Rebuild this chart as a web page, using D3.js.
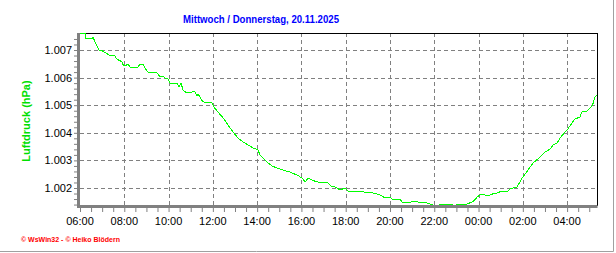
<!DOCTYPE html>
<html>

<head>
    <title>Luftdruck</title>
    <script src="https://d3js.org/d3.v7.min.js"></script>
    <style>
        body { margin: 0; background: #fff; }
        svg { display: block; font-family: "Liberation Sans", Arial, sans-serif; }
    </style>
</head>

<body>
    <div id="chart"></div>
    <script>
        // data (hour:minute, pressure)
        var times = ["06:00", "06:14", "06:16", "06:33", "06:35", "06:51", "07:02", "07:19", "07:35", "07:40",
            "07:54", "07:57", "08:02", "08:10", "08:16", "08:37", "08:43", "08:51", "08:56", "09:04",
            "09:29", "09:37", "09:45", "09:50", "09:58", "10:04", "10:23", "10:28", "10:34", "10:39",
            "10:50", "11:04", "11:12", "11:17", "11:20", "11:33", "11:58", "12:03", "12:14", "12:28",
            "12:41", "12:55", "13:08", "13:22", "13:35", "13:49", "14:02", "14:08", "14:27", "14:40",
            "14:54", "15:10", "15:29", "15:48", "16:02", "16:10", "16:18", "16:29", "16:42", "17:12",
            "17:23", "17:26", "17:45", "17:58", "18:06", "18:31", "18:39", "18:47", "19:14", "19:33",
            "19:47", "20:00", "20:06", "20:27", "20:35", "20:46", "20:54", "21:02", "21:30", "21:40",
            "22:02", "22:24", "22:43", "22:56", "23:04", "23:29", "23:42", "23:50", "23:56", "00:04",
            "00:12", "00:23", "00:37", "00:50", "00:58", "01:17", "01:25", "01:44", "01:52", "02:00",
            "02:14", "02:28", "02:47", "03:00", "03:14", "03:22", "03:33", "03:41", "03:54", "04:02",
            "04:21", "04:35", "04:40", "04:54", "05:08", "05:16", "05:21"];
        var pressure = [1.00758, 1.00758, 1.00740, 1.00740, 1.00747, 1.00700, 1.00696, 1.00682, 1.00678, 1.00667,
            1.00657, 1.00646, 1.00642, 1.00649, 1.00638, 1.00638, 1.00649, 1.00649, 1.00635, 1.00620,
            1.00617, 1.00602, 1.00606, 1.00599, 1.00595, 1.00580, 1.00580, 1.00566, 1.00580, 1.00555,
            1.00544, 1.00548, 1.00548, 1.00533, 1.00541, 1.00512, 1.00508, 1.00493, 1.00475, 1.00454,
            1.00428, 1.00403, 1.00381, 1.00367, 1.00356, 1.00345, 1.00338, 1.00320, 1.00294, 1.00280,
            1.00272, 1.00265, 1.00258, 1.00247, 1.00236, 1.00222, 1.00236, 1.00229, 1.00222, 1.00218,
            1.00204, 1.00207, 1.00193, 1.00200, 1.00189, 1.00186, 1.00189, 1.00186, 1.00182, 1.00175,
            1.00164, 1.00167, 1.00160, 1.00160, 1.00146, 1.00149, 1.00146, 1.00153, 1.00146, 1.00146,
            1.00135, 1.00142, 1.00142, 1.00135, 1.00142, 1.00142, 1.00149, 1.00157, 1.00167, 1.00175,
            1.00178, 1.00171, 1.00178, 1.00182, 1.00186, 1.00186, 1.00196, 1.00204, 1.00222, 1.00240,
            1.00265, 1.00291, 1.00312, 1.00330, 1.00341, 1.00356, 1.00363, 1.00381, 1.00403, 1.00414,
            1.00450, 1.00457, 1.00475, 1.00479, 1.00497, 1.00530, 1.00537];
        var yTicks = [1.002, 1.003, 1.004, 1.005, 1.006, 1.007];
        var xTickLabels = ["06:00", "08:00", "10:00", "12:00", "14:00", "16:00", "18:00", "20:00", "22:00", "00:00", "02:00", "04:00"];
        var title = "Mittwoch / Donnerstag, 20.11.2025";
        var yLabel = "Luftdruck (hPa)";
        var footer = "\u00a9 WsWin32  -  \u00a9 Heiko Blödern";

        // times before 06:00 belong to the next day
        function toDate(s) {
            var p = s.split(":").map(Number);
            var day = p[0] < 6 ? 20 : 19;
            return new Date(2025, 10, day, p[0], p[1]);
        }
        var data = times.map(function (t, i) { return { t: toDate(t), v: pressure[i] }; });

        const W = 616, H = 253;
        const margin = { top: 33, right: 19, bottom: 47, left: 80 };
        const width = W - margin.left - margin.right, height = H - margin.top - margin.bottom;

        var svg = d3.select("#chart").append("svg")
            .attr("width", W).attr("height", H);

        // outer frame (grey edge on right and bottom)
        svg.append("line").attr("x1", 613.5).attr("x2", 613.5).attr("y1", 0).attr("y2", 251.5)
            .attr("stroke", "#a0a0a0");
        svg.append("line").attr("x1", 0).attr("x2", 613.5).attr("y1", 251.5).attr("y2", 251.5)
            .attr("stroke", "#a0a0a0");

        var g = svg.append("g").attr("transform", `translate(${margin.left},${margin.top})`);

        var x = d3.scaleTime()
            .domain([toDate("06:00"), toDate("05:21")])
            .range([0, width]);
        var y = d3.scaleLinear()
            .domain([1.001348, 1.007616])
            .range([height, 0]);

        var xTickValues = xTickLabels.map(toDate);
        var halfHours = d3.timeMinute.every(30).range(toDate("06:00"), toDate("05:21"));

        // grid
        g.append("g").selectAll("line").data(xTickValues.slice(1)).enter().append("line")
            .attr("x1", d => Math.round(x(d)) + 0.5).attr("x2", d => Math.round(x(d)) + 0.5)
            .attr("y1", 0).attr("y2", height)
            .attr("stroke", "#808080").attr("stroke-dasharray", "4,3");
        g.append("g").selectAll("line").data(yTicks).enter().append("line")
            .attr("x1", 0).attr("x2", width)
            .attr("y1", d => Math.round(y(d)) + 0.5).attr("y2", d => Math.round(y(d)) + 0.5)
            .attr("stroke", "#808080").attr("stroke-dasharray", "4,3");

        // top and right border
        g.append("line").attr("x1", 0).attr("x2", width + 0.5).attr("y1", 0.5).attr("y2", 0.5).attr("stroke", "#000");
        g.append("line").attr("x1", width + 0.5).attr("x2", width + 0.5).attr("y1", 0).attr("y2", height).attr("stroke", "#000");

        // line, drawn without smoothing like the original
        var line = d3.line().x(d => x(d.t)).y(d => y(d.v));
        g.append("path").datum(data)
            .attr("fill", "none").attr("stroke", "#00ff00").attr("stroke-width", 1)
            .attr("shape-rendering", "crispEdges")
            .attr("d", line);

        // x axis
        var xAxis = g.append("g").attr("transform", `translate(0,${height + 1})`)
            .call(d3.axisBottom(x).tickValues(halfHours).tickSize(5).tickFormat(""));
        xAxis.select(".domain").remove();
        xAxis.selectAll("line").attr("stroke", "#808080").attr("stroke-width", 1);
        g.append("g").selectAll("text").data(xTickValues).enter().append("text")
            .attr("x", d => x(d)).attr("y", height + 19)
            .attr("text-anchor", "middle").attr("font-size", "11px").attr("fill", "#000")
            .text((d, i) => xTickLabels[i]);

        // y axis
        var yAxis = g.append("g").attr("transform", "translate(-3,0)")
            .call(d3.axisLeft(y).tickValues(d3.range(1.0014, 1.0076, 0.0002)).tickSize(3).tickFormat(""));
        yAxis.select(".domain").remove();
        yAxis.selectAll("line").attr("stroke", "#808080");
        g.append("g").selectAll("text").data(yTicks).enter().append("text")
            .attr("x", -8).attr("y", d => y(d) + 4)
            .attr("text-anchor", "end").attr("font-size", "11px").attr("fill", "#000")
            .text(d => d3.format(".3f")(d));

        // thick grey axis lines
        g.append("rect").attr("x", -3).attr("y", 0).attr("width", 3).attr("height", height + 2).attr("fill", "#808080");
        g.append("rect").attr("x", -3).attr("y", height - 1).attr("width", width + 3.5).attr("height", 3).attr("fill", "#808080");

        // title
        svg.append("text").attr("x", 183).attr("y", 23)
            .attr("font-size", "11px").attr("font-weight", "bold")
            .attr("textLength", 156).attr("lengthAdjust", "spacingAndGlyphs")
            .attr("fill", "#0000ff").text(title);

        // y label
        svg.append("text")
            .attr("transform", "translate(30,121) rotate(-90)")
            .attr("text-anchor", "middle").attr("font-size", "11px").attr("font-weight", "bold")
            .attr("fill", "#00e000").text(yLabel);

        // footer
        svg.append("text").attr("x", 21).attr("y", 242)
            .attr("font-size", "7px").attr("font-weight", "bold").attr("fill", "#ff0000")
            .text(footer);
    </script>
</body>

</html>
